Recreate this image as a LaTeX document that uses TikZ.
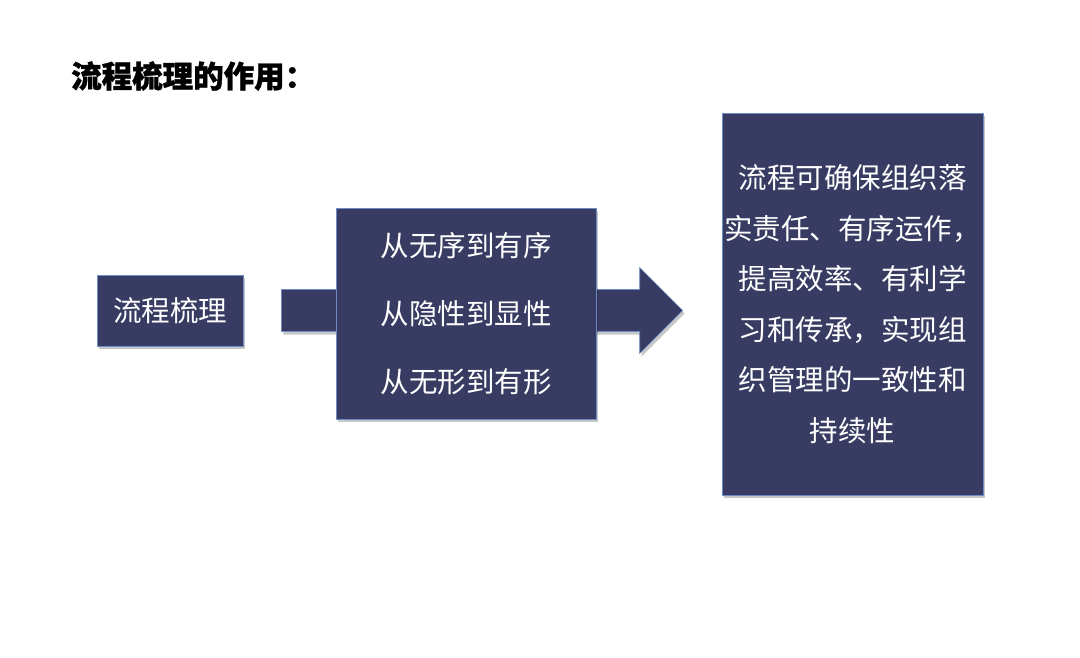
\documentclass[tikz,border=0pt]{standalone}
\usepackage{fontspec}
\setmainfont{Noto Sans CJK SC}
\usetikzlibrary{shadows, positioning, calc}
\definecolor{mNavy}{HTML}{383C63}
\definecolor{mEdge}{HTML}{6E8CC4}

\begin{document}
\begin{tikzpicture}[x=1pt, y=-1pt,
    block/.style={draw=mEdge, line width=0.6pt, fill=mNavy, text=white, inner sep=0pt,
      drop shadow={shadow xshift=2pt, shadow yshift=-3pt, fill=black, opacity=0.22}}]
    \useasboundingbox[fill=white] (0,0) rectangle (1080,657);
    \node[anchor=west, inner sep=0pt, font=\fontsize{30.5}{36}\selectfont\bfseries\addfontfeature{FakeBold=1.2}]
      (title) at (71,76) {流程梳理的作用：};

    \node[block, minimum width=146, minimum height=71, font=\fontsize{28.5}{32}\selectfont]
      (src) at (170,310.5) {流程梳理};
    \node[block, minimum width=261, minimum height=382, align=center,
      font=\fontsize{28.5}{50.5}\selectfont] (goal) at (852.5,304)
      {流程可确保组织落\\实责任、有序运作，\\提高效率、有利学\\习和传承，实现组\\织管理的一致性和\\持续性};

    % block arrow behind the middle box
    \coordinate (tail) at ($(src.east)+(38,0)$);
    \coordinate (tip) at ($(tail -| goal.west)+(-39,0)$);
    \draw[block] ($(tail)+(0,-21)$) -- ($(tip)+(-43,-21)$) -- ($(tip)+(-43,-43)$) -- (tip)
      -- ($(tip)+(-43,43)$) -- ($(tip)+(-43,21)$) -- ($(tail)+(0,21)$) -- cycle;

    \node[block, minimum width=260, minimum height=211, align=center,
      font=\fontsize{28.5}{68}\selectfont] (mid) at (466,313.5)
      {从无序到有序\\从隐性到显性\\从无形到有形};
  \end{tikzpicture}
\end{document}
